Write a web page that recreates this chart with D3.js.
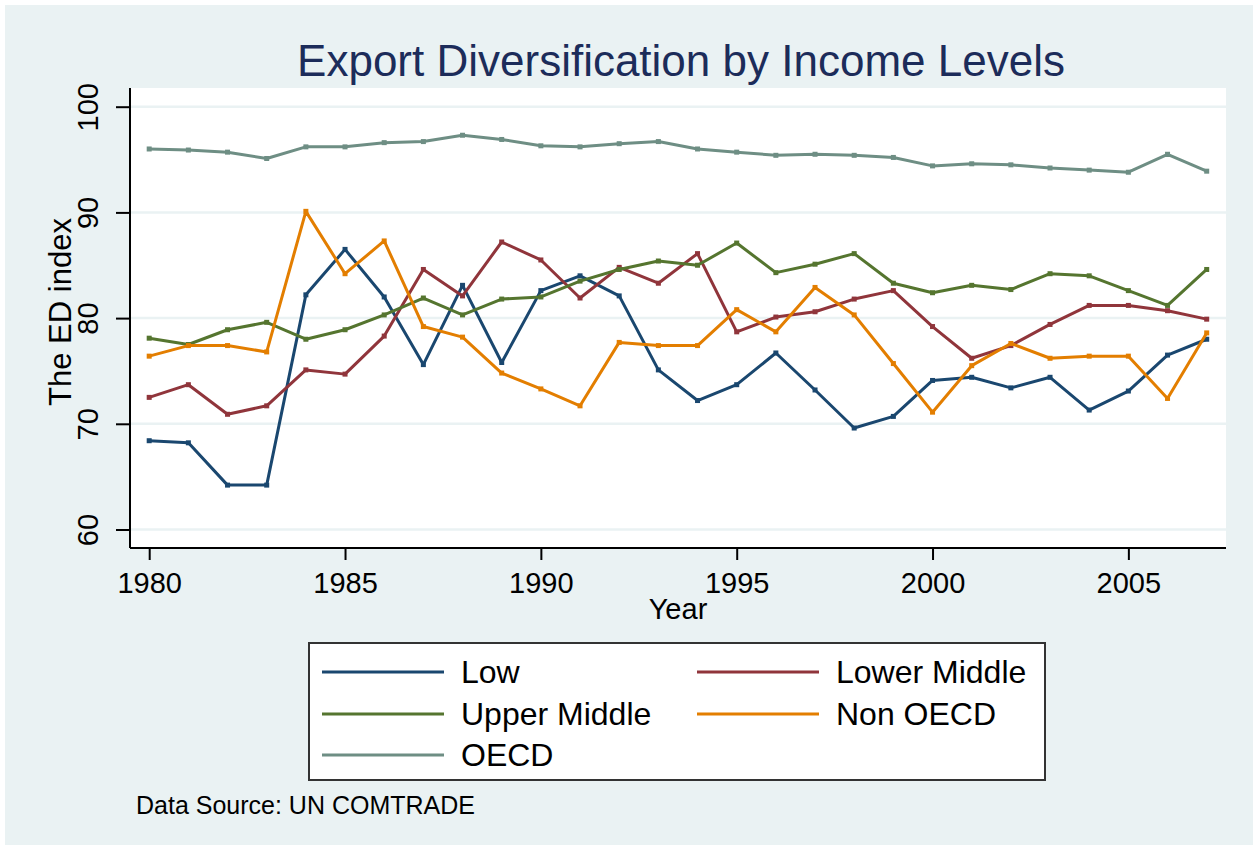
<!DOCTYPE html>
<html>
<head>
<meta charset="utf-8">
<script src="https://cdn.jsdelivr.net/npm/d3@7"></script>
<style>
	body { margin: 0; background: #ffffff; }
	svg { display: block; font-family: "Liberation Sans", Arial, sans-serif; }
</style>
</head>
<body>
<div id="chart"></div>
<script>

//Data
var years = d3.range(1980, 2008);

var low = [68.4, 68.2, 64.2, 64.2, 82.2, 86.5, 82.0, 75.6, 83.1, 75.8, 82.6, 84.0, 82.1, 75.1,
	72.2, 73.7, 76.7, 73.2, 69.6, 70.7, 74.1, 74.4, 73.4, 74.4, 71.3, 73.1, 76.5, 78.0];

var lowerMiddle = [72.5, 73.7, 70.9, 71.7, 75.1, 74.7, 78.3, 84.6, 82.1, 87.2, 85.5, 81.9, 84.8, 83.3,
	86.1, 78.7, 80.1, 80.6, 81.8, 82.6, 79.2, 76.2, 77.4, 79.4, 81.2, 81.2, 80.7, 79.9];

var upperMiddle = [78.1, 77.5, 78.9, 79.6, 78.0, 78.9, 80.3, 81.9, 80.3, 81.8, 82.0, 83.5, 84.6, 85.4,
	85.0, 87.1, 84.3, 85.1, 86.1, 83.3, 82.4, 83.1, 82.7, 84.2, 84.0, 82.6, 81.2, 84.6];

var nonOecd = [76.4, 77.4, 77.4, 76.8, 90.1, 84.2, 87.3, 79.2, 78.2, 74.8, 73.3, 71.7, 77.7, 77.4,
	77.4, 80.8, 78.7, 82.9, 80.3, 75.7, 71.1, 75.5, 77.6, 76.2, 76.4, 76.4, 72.4, 78.6];

var oecd = [96.0, 95.9, 95.7, 95.1, 96.2, 96.2, 96.6, 96.7, 97.3, 96.9, 96.3, 96.2, 96.5, 96.7,
	96.0, 95.7, 95.4, 95.5, 95.4, 95.2, 94.4, 94.6, 94.5, 94.2, 94.0, 93.8, 95.5, 93.9];

var seriesNames = ["Low", "Lower Middle", "Upper Middle", "Non OECD", "OECD"];
var seriesValues = [low, lowerMiddle, upperMiddle, nonOecd, oecd];
var colors = ["#1a476f", "#90353b", "#55752f", "#e37e00", "#6e8e84"];

var xTicks = [1980, 1985, 1990, 1995, 2000, 2005];
var yTicks = [60, 70, 80, 90, 100];

function chart() {
	//Width and height
	var w = 1258;
	var h = 850;
	var bg = "#eaf2f3";

	//Plot region
	var plot = { left: 130, right: 1226, top: 88, bottom: 548 };

	var svg = d3.select("#chart")
		.append("svg")
		.attr("width", w)
		.attr("height", h);

	//Graph region background
	svg.append("rect")
		.attr("x", 5).attr("y", 5)
		.attr("width", w - 10).attr("height", h - 10)
		.attr("fill", bg);

	//Plot region background
	svg.append("rect")
		.attr("x", plot.left).attr("y", plot.top)
		.attr("width", plot.right - plot.left)
		.attr("height", plot.bottom - plot.top)
		.attr("fill", "#ffffff");

	//Scales
	var x = d3.scaleLinear()
		.domain([1980, 2007])
		.range([149.2, 1206.7]);

	var y = d3.scaleLinear()
		.domain([60, 100])
		.range([529.5, 106.7]);

	//Gridlines
	svg.append("g")
		.selectAll("line")
		.data(yTicks)
		.enter()
		.append("line")
		.attr("x1", plot.left)
		.attr("x2", plot.right)
		.attr("y1", function (d) { return y(d); })
		.attr("y2", function (d) { return y(d); })
		.attr("stroke", bg)
		.attr("stroke-width", 2.5);

	//Y axis
	var yAxis = svg.append("g")
		.attr("transform", "translate(" + plot.left + ",0)")
		.call(d3.axisLeft(y)
			.tickValues(yTicks)
			.tickSize(14)
			.tickFormat(d3.format("d")));

	yAxis.select(".domain")
		.attr("d", "M0," + plot.top + "V" + plot.bottom)
		.attr("stroke", "#000")
		.attr("stroke-width", 2);

	yAxis.selectAll(".tick line")
		.attr("stroke", "#000")
		.attr("stroke-width", 2);

	yAxis.selectAll(".tick text")
		.attr("x", 0).attr("y", 0).attr("dy", 0)
		.attr("transform", "translate(-32,0) rotate(-90)")
		.attr("text-anchor", "middle")
		.attr("fill", "#000")
		.style("font-size", "29px");

	//X axis
	var xAxis = svg.append("g")
		.attr("transform", "translate(0," + plot.bottom + ")")
		.call(d3.axisBottom(x)
			.tickValues(xTicks)
			.tickSize(12)
			.tickFormat(d3.format("d")));

	xAxis.select(".domain")
		.attr("d", "M" + plot.left + ",0H" + plot.right)
		.attr("stroke", "#000")
		.attr("stroke-width", 2);

	xAxis.selectAll(".tick line")
		.attr("stroke", "#000")
		.attr("stroke-width", 2);

	xAxis.selectAll(".tick text")
		.attr("y", 45).attr("dy", 0)
		.attr("fill", "#000")
		.style("font-size", "29px");

	//Lines
	var line = d3.line()
		.x(function (d, i) { return x(years[i]); })
		.y(function (d) { return y(d); });

	var series = svg.selectAll(".series")
		.data(seriesValues)
		.enter()
		.append("g")
		.attr("class", "series");

	series.append("path")
		.attr("d", function (d) { return line(d); })
		.attr("fill", "none")
		.attr("stroke", function (d, i) { return colors[i]; })
		.attr("stroke-width", 3)
		.attr("stroke-linejoin", "round");

	//Small square markers
	series.each(function (vals, s) {
		d3.select(this).selectAll("rect")
			.data(vals)
			.enter()
			.append("rect")
			.attr("x", function (d, i) { return x(years[i]) - 2.5; })
			.attr("y", function (d) { return y(d) - 2.5; })
			.attr("width", 5)
			.attr("height", 5)
			.attr("fill", colors[s]);
	});

	//Titles
	svg.append("text")
		.attr("x", 681)
		.attr("y", 76)
		.attr("text-anchor", "middle")
		.attr("fill", "#1c2c5a")
		.style("font-size", "44px")
		.text("Export Diversification by Income Levels");

	svg.append("text")
		.attr("x", 678)
		.attr("y", 619)
		.attr("text-anchor", "middle")
		.attr("fill", "#000")
		.style("font-size", "29px")
		.text("Year");

	svg.append("text")
		.attr("transform", "translate(71,312) rotate(-90)")
		.attr("text-anchor", "middle")
		.attr("fill", "#000")
		.style("font-size", "31px")
		.text("The ED index");

	//Legend
	var legend = svg.append("g");

	legend.append("rect")
		.attr("x", 309).attr("y", 643)
		.attr("width", 736).attr("height", 137)
		.attr("fill", "#ffffff")
		.attr("stroke", "#333")
		.attr("stroke-width", 2);

	var keyCol = [322, 697];
	var rowY = [672, 714, 755];

	var items = legend.selectAll(".item")
		.data(seriesNames)
		.enter()
		.append("g")
		.attr("class", "item")
		.attr("transform", function (d, i) {
			return "translate(" + keyCol[i % 2] + "," + rowY[Math.floor(i / 2)] + ")";
		});

	items.append("line")
		.attr("x1", 0).attr("x2", 122)
		.attr("y1", 0).attr("y2", 0)
		.attr("stroke", function (d, i) { return colors[i]; })
		.attr("stroke-width", 3);

	items.append("text")
		.attr("x", 139)
		.attr("y", 11)
		.attr("fill", "#000")
		.style("font-size", "32px")
		.text(function (d) { return d; });

	//Note
	svg.append("text")
		.attr("x", 136)
		.attr("y", 814)
		.attr("fill", "#000")
		.style("font-size", "25px")
		.text("Data Source: UN COMTRADE");
}

chart();
</script>
</body>
</html>
